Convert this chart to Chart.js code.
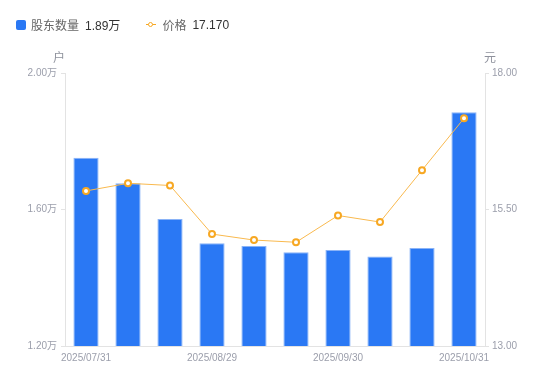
<!DOCTYPE html>
<html>
<head>
<meta charset="utf-8">
<script src="https://cdn.jsdelivr.net/npm/chart.js@4"></script>
<style>
  html, body { margin: 0; padding: 0; background: #fff; }
  #wrap { position: relative; width: 550px; height: 381px; }
  #legend { position: absolute; left: 16px; top: 16px; font: 12px "Liberation Sans", "Noto Sans CJK SC", sans-serif; color: #666; display: flex; align-items: center; white-space: nowrap; }
  #legend .item { display: flex; align-items: center; margin-right: 26px; }
  #legend .sq { width: 10px; height: 10px; background: #2a78f4; border-radius: 2px; margin-right: 5px; }
  #legend .ln { position: relative; width: 10px; height: 10px; margin-right: 6px; }
  #legend .ln:before { content: ""; position: absolute; left: 0; right: 0; top: 4.5px; height: 1px; background: #f7a823; }
  #legend .ln:after { content: ""; position: absolute; left: 2px; top: 2px; width: 3px; height: 3px; border: 1.5px solid #f7a823; border-radius: 50%; background: #fff; }
  #legend .val { color: #333; margin-left: 6px; }
</style>
</head>
<body>
<div id="wrap">
  <canvas id="chart" width="550" height="381"></canvas>
  <div id="legend"></div>
</div>
<script>
// categories (report dates); only every 3rd is labelled on the axis
const dates = ['2025/07/31', '2025/08/10', '2025/08/20', '2025/08/29', '2025/09/10',
               '2025/09/19', '2025/09/30', '2025/10/10', '2025/10/20', '2025/10/31'];
// shareholder count, in 万户
const holders = [1.752, 1.677, 1.572, 1.501, 1.493, 1.475, 1.481, 1.462, 1.487, 1.885];
// price, 元
const prices = [15.84, 15.98, 15.94, 15.05, 14.94, 14.90, 15.39, 15.27, 16.22, 17.17];
const leftTicks = [1.2, 1.6, 2.0];
const rightTicks = [13, 15.5, 18];

const tickFont = { family: '"Liberation Sans", "Noto Sans CJK SC", sans-serif', size: 10 };
const tickColor = '#9b9eab';
const lineColor = '#e3e3e3';

document.getElementById('legend').innerHTML =
  '<span class="item"><span class="sq"></span>股东数量<span class="val">' + holders[holders.length - 1].toFixed(2) + '万</span></span>' +
  '<span class="item"><span class="ln"></span>价格<span class="val">' + prices[prices.length - 1].toFixed(3) + '</span></span>';

const unitTitles = {
  id: 'unitTitles',
  afterDraw(chart) {
    const ctx = chart.ctx;
    const yl = chart.scales.y, yr = chart.scales.y1;
    ctx.save();
    ctx.font = '12px "Noto Sans CJK SC", sans-serif';
    ctx.fillStyle = '#8e919c';
    ctx.textBaseline = 'middle';
    ctx.textAlign = 'center';
    ctx.fillText('户', yl.right - 6, yl.top - 16);
    ctx.fillText('元', yr.left + 5, yr.top - 16);
    ctx.restore();
  }
};

new Chart(document.getElementById('chart'), {
  data: {
    labels: dates,
    datasets: [
      {
        type: 'line',
        label: '价格',
        data: prices,
        yAxisID: 'y1',
        borderColor: '#f9b94e',
        borderWidth: 1,
        pointRadius: 3,
        pointBorderWidth: 2,
        pointBorderColor: '#f7a823',
        pointBackgroundColor: '#fff',
        tension: 0,
        order: 0
      },
      {
        type: 'bar',
        label: '股东数量',
        data: holders,
        yAxisID: 'y',
        backgroundColor: '#2a78f4',
        borderColor: '#8ab3f7',
        borderWidth: 1,
        categoryPercentage: 1,
        barPercentage: 0.6,
        order: 1
      }
    ]
  },
  options: {
    responsive: false,
    animation: false,
    layout: { padding: { top: 73 } },
    plugins: { legend: { display: false }, tooltip: { enabled: false } },
    scales: {
      x: {
        grid: { display: true, drawOnChartArea: false, drawTicks: false, color: lineColor },
        border: { display: true, color: lineColor },
        ticks: {
          autoSkip: false,
          maxRotation: 0,
          padding: 6,
          color: tickColor,
          font: tickFont,
          callback: function (v, i) { return i % 3 === 0 ? dates[i] : null; }
        },
        afterFit: function (s) { s.height = 35; }
      },
      y: {
        position: 'left',
        min: 1.2,
        max: 2.0,
        afterBuildTicks: function (s) { s.ticks = leftTicks.map(v => ({ value: v })); },
        grid: { drawOnChartArea: false, drawTicks: true, tickLength: 4, color: lineColor },
        border: { display: true, color: lineColor },
        ticks: {
          padding: 4,
          color: tickColor,
          font: tickFont,
          callback: function (v) { return v.toFixed(2) + '万'; }
        },
        afterFit: function (s) { s.width = 65; }
      },
      y1: {
        position: 'right',
        min: 13,
        max: 18,
        afterBuildTicks: function (s) { s.ticks = rightTicks.map(v => ({ value: v })); },
        grid: { drawOnChartArea: false, drawTicks: true, tickLength: 4, color: lineColor },
        border: { display: true, color: lineColor },
        ticks: {
          padding: 3,
          color: tickColor,
          font: tickFont,
          callback: function (v) { return v.toFixed(2); }
        },
        afterFit: function (s) { s.width = 65; }
      }
    }
  },
  plugins: [unitTitles]
});
</script>
</body>
</html>
